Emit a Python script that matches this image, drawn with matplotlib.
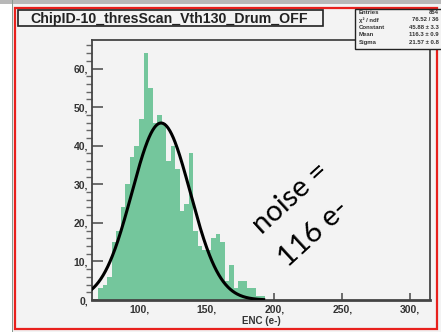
import numpy as np
import matplotlib
matplotlib.use('Agg')
import matplotlib.pyplot as plt
from matplotlib.patches import Rectangle

# histogram: 10/3 wide bins starting at 70 e-
bin_lo = 70.0
bin_width = 10.0 / 3.0
counts = [3, 4, 6, 15, 18, 24, 30, 37, 40, 47, 64, 55, 46, 48, 46, 36, 40, 34, 23,
          25, 38, 18, 14, 13, 13, 16, 17, 15, 5, 9, 3, 5, 5, 3, 3, 1, 1]

# gaussian fit (stats box)
fit_const = 45.88
fit_mean = 116.3
fit_sigma = 21.57
fit_range = (65.0, 192.0)

stat_names = ['Entries', '\u03c7\u00b2 / ndf', 'Constant', 'Mean', 'Sigma']
stat_values = ['854', '76.52 / 36', '45.88 \u00b1 3.3', '116.3 \u00b1 0.9', '21.57 \u00b1 0.8']

xticks = [100, 150, 200, 250, 300]
yticks = [0, 10, 20, 30, 40, 50, 60]

title = 'ChipID-10_thresScan_Vth130_Drum_OFF'
note_lines = ['noise =', '116 e-']

W, H = 441, 332
bg = '#f3f3f3'
fig = plt.figure(figsize=(W / 100, H / 100), dpi=100)
fig.patch.set_facecolor(bg)

def px(x, y, w, h):
    # pixel box (top-left origin) -> figure fraction rect
    return (x / W, 1 - (y + h) / H, w / W, h / H)

def add_rect(x, y, w, h, **kw):
    r = px(x, y, w, h)
    fig.patches.append(Rectangle(r[:2], r[2], r[3], transform=fig.transFigure, **kw))

# window borders
add_rect(0, 0, 12, 332, facecolor='white', edgecolor='none', zorder=1)
add_rect(0, 0, 441, 4, facecolor='#b8b8b8', edgecolor='none', zorder=1)
add_rect(12, 0, 1.2, 332, facecolor='#8a9a90', edgecolor='none', zorder=1)
add_rect(15, 8, 422, 321, facecolor='none', edgecolor='#e8201c', lw=1.6, zorder=5)

ax = fig.add_axes([92 / W, 1 - 300 / H, 338 / W, 260 / H])
ax.set_facecolor(bg)

edges = bin_lo + bin_width * np.arange(len(counts) + 1)
ax.stairs(counts, edges, fill=True, color='#74c69c', zorder=2)

xf = np.linspace(fit_range[0], fit_range[1], 300)
yf = fit_const * np.exp(-0.5 * ((xf - fit_mean) / fit_sigma) ** 2)
ax.plot(xf, yf, color='black', lw=2.2, zorder=3)

ax.set_xlim(65.3, 314.8)
ax.set_ylim(0, 67.4)

ax.set_xticks(xticks)
ax.set_xticklabels([f'{t},' for t in xticks])
ax.set_yticks(yticks)
ax.set_yticklabels([f'{t},' for t in yticks])
ax.set_yticks(np.arange(0, 67, 2), minor=True)
ax.tick_params(axis='both', direction='in', colors='#555555', labelcolor='#333333',
               labelsize=7.5, width=1.2)
ax.tick_params(axis='y', which='major', length=8, pad=3)
ax.tick_params(axis='y', which='minor', length=4, width=1.0, color='#666666')
ax.tick_params(axis='x', which='major', length=5, pad=3)
for lab in ax.get_xticklabels() + ax.get_yticklabels():
    lab.set_fontweight('bold')
    lab.set_family('Liberation Sans')
for s in ax.spines.values():
    s.set_color('#444444')
    s.set_linewidth(1.3)
ax.spines['bottom'].set_linewidth(2)

ax.set_xlabel('ENC (e-)', fontsize=7, fontweight='bold', family='Liberation Sans',
              color='#333333', labelpad=1)

# rotated annotation, one text per line
for line, (cx, cy) in zip(note_lines, [(291, 198), (314, 234)]):
    fig.text(cx / W, 1 - cy / H, line, rotation=42.5, ha='center', va='center',
             fontsize=21, family='Lato', rotation_mode='anchor', zorder=4)

# title box
add_rect(18, 10, 305, 16, facecolor=bg, edgecolor='#222222', lw=1.2, zorder=6)
fig.text(169 / W, 1 - 18.5 / H, title, ha='center', va='center', fontsize=10.2,
         fontweight='bold', family='Liberation Sans', color='#222222', zorder=7)

# stats box
add_rect(355, 9, 90, 40, facecolor=bg, edgecolor='#222222', lw=1.0, zorder=6)
rows_y = [12.7, 19.8, 27.5, 35.0, 42.5]
for name, val, yy in zip(stat_names, stat_values, rows_y):
    fig.text(359 / W, 1 - yy / H, name, ha='left', va='center', fontsize=4.3,
             fontweight='bold', family='Liberation Sans', color='#333333', zorder=7)
    fig.text(439 / W, 1 - yy / H, val, ha='right', va='center', fontsize=4.3,
             fontweight='bold', family='Liberation Sans', color='#333333', zorder=7)

fig.savefig('out.png', dpi=100, facecolor=fig.get_facecolor())
